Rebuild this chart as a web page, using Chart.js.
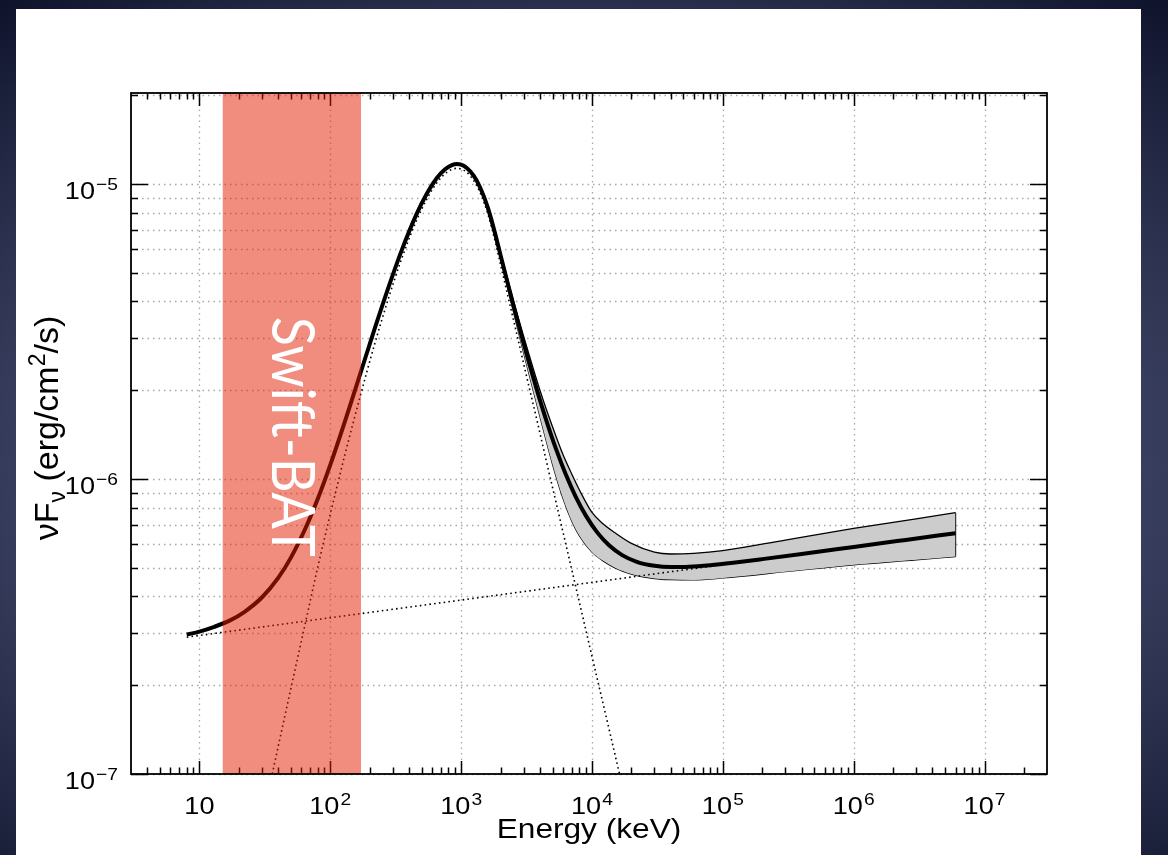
<!DOCTYPE html>
<html>
<head>
<meta charset="utf-8">
<title>Prompt emission spectrum</title>
<script src="https://cdn.jsdelivr.net/npm/chart.js@4"></script>
<style>
  html, body { margin: 0; padding: 0; }
  body {
    width: 1168px; height: 855px; overflow: hidden; position: relative;
    background: radial-gradient(ellipse 80% 75% at 50% 55%, #6a7090 0%, #444a6c 50%, #0a0e26 100%);
  }
  #panel { position: absolute; left: 16px; top: 9px; width: 1125px; height: 846px; background: #fff; }
  #chart { position: absolute; left: 0; top: 0; }
</style>
</head>
<body>
<div id="panel"></div>
<canvas id="chart" width="1168" height="855"></canvas>
<script>
// Swift-BAT energy window (keV)
const batRange = [15, 172];

// total model, nuFnu (erg/cm^2/s) against energy (keV)
const modelE = [8, 10, 13, 17, 22, 30, 40, 50, 65, 80,
                100, 130, 170, 220, 280, 350, 450, 550, 650, 750,
                850, 930, 1000, 1100, 1250, 1400, 1600, 1800, 2000, 2300,
                2700, 3200, 3800, 4500, 5300, 6300, 7500, 9000, 1.1e4, 1.35e4,
                1.7e4, 2.2e4, 3e4, 4e4, 5.5e4, 8e4, 1.2e5, 2e5, 4e5, 1e6,
                2.5e6, 6e6];
const modelF = [2.97e-7, 3.04e-7, 3.155e-7, 3.31e-7, 3.54e-7, 3.965e-7, 4.62e-7, 5.415e-7, 6.85e-7, 8.54e-7,
                1.117e-6, 1.578e-6, 2.285e-6, 3.266e-6, 4.5e-6, 5.936e-6, 7.8e-6, 9.32e-6, 1.046e-5, 1.1205e-5,
                1.1596e-5, 1.1687e-5, 1.1628e-5, 1.136e-5, 1.065e-5, 9.717e-6, 8.318e-6, 6.92e-6, 5.741e-6, 4.5e-6,
                3.43e-6, 2.6e-6, 1.998e-6, 1.569e-6, 1.267e-6, 1.037e-6, 8.72e-7, 7.5e-7, 6.58e-7, 5.96e-7,
                5.52e-7, 5.24e-7, 5.078e-7, 5.03e-7, 5.042e-7, 5.105e-7, 5.204e-7, 5.351e-7, 5.569e-7, 5.885e-7,
                6.217e-7, 6.551e-7];

// Band function component (dotted)
const bandE = [36, 50, 65, 80, 100, 130, 170, 220, 280, 350,
               450, 550, 650, 750, 850, 930, 1000, 1100, 1250, 1400,
               1600, 1800, 2000, 2300, 2700, 3200, 3800, 4500, 5300, 6300,
               7500, 9000, 1.1e4, 1.35e4, 1.7e4];
const bandF = [1.0e-7, 1.95e-7, 3.3e-7, 5.0e-7, 7.6e-7, 1.22e-6, 1.92e-6, 2.9e-6, 4.13e-6, 5.56e-6,
               7.42e-6, 8.94e-6, 1.007e-5, 1.082e-5, 1.121e-5, 1.13e-5, 1.124e-5, 1.097e-5, 1.026e-5, 9.32e-6,
               7.92e-6, 6.52e-6, 5.34e-6, 4.09e-6, 3.02e-6, 2.18e-6, 1.58e-6, 1.14e-6, 8.37e-7, 6.03e-7,
               4.33e-7, 3.06e-7, 2.09e-7, 1.42e-7, 9.15e-8];

// power-law component (dotted)
const plE = [8, 6e6];
const plF = [2.91e-7, 6.55e-7];

// 1-sigma envelope of the model
const errE  = [1500, 2000, 2500, 3000, 4000, 5000, 6000, 7000, 8000, 1e4,
               1.2e4, 1.5e4, 2e4, 3e4, 4e4, 6e4, 1e5, 3e5, 1e6, 3e6, 6e6];
const errHi = [9.05e-6, 5.85e-6, 4.05e-6, 3.05e-6, 2.0e-6, 1.5e-6, 1.21e-6, 1.04e-6, 9.2e-7, 7.7e-7,
               7.08e-7, 6.57e-7, 6.05e-7, 5.65e-7, 5.57e-7, 5.6e-7, 5.72e-7, 6.21e-7, 6.8e-7, 7.33e-7, 7.69e-7];
const errLo = [8.95e-6, 5.6e-6, 3.72e-6, 2.68e-6, 1.63e-6, 1.12e-6, 8.6e-7, 7.2e-7, 6.43e-7, 5.65e-7,
               5.3e-7, 5.0e-7, 4.76e-7, 4.6e-7, 4.56e-7, 4.55e-7, 4.62e-7, 4.85e-7, 5.12e-7, 5.32e-7, 5.46e-7];

// axes
const xRange = [3, 3e7];
const yRange = [1e-7, 2.035e-5];
const xMajor = [10, 1e2, 1e3, 1e4, 1e5, 1e6, 1e7];
const xLabelExp = ['', '2', '3', '4', '5', '6', '7'];
const yMajor = [1e-7, 1e-6, 1e-5];
const yLabelExp = ['\u22127', '\u22126', '\u22125'];

const xMinor = [];
for (const d of [1, 10, 1e2, 1e3, 1e4, 1e5, 1e6, 1e7]) {
  for (let m = 2; m <= 9; m++) {
    const v = d * m;
    if (v > xRange[0] && v < xRange[1]) xMinor.push(v);
  }
}
const yMinor = [];
for (const d of [1e-7, 1e-6, 1e-5]) {
  for (let m = 2; m <= 9; m++) {
    const v = d * m;
    if (v < yRange[1]) yMinor.push(v);
  }
}

const pts = (xs, ys) => xs.map((x, i) => ({x: x, y: ys[i]}));

const axisFont = '"Liberation Sans", Arial, Helvetica, sans-serif';
const stretch = 1.13;

// "10" with a raised exponent; anchor is the centre (x axis) or right edge (y axis)
function drawPower(ctx, x, baseline, exp, align) {
  ctx.font = '24px ' + axisFont;
  const wBase = ctx.measureText('10').width;
  ctx.font = '17px ' + axisFont;
  const wExp = exp ? ctx.measureText(exp).width + 1 : 0;
  const total = (wBase + wExp) * stretch;
  const left = align === 'center' ? x - total / 2 : x - total;
  ctx.save();
  ctx.translate(left, baseline);
  ctx.scale(stretch, 1);
  ctx.textAlign = 'left';
  ctx.textBaseline = 'alphabetic';
  ctx.fillStyle = '#000';
  ctx.font = '24px ' + axisFont;
  ctx.fillText('10', 0, 0);
  if (exp) {
    ctx.font = '17px ' + axisFont;
    ctx.fillText(exp, wBase + 1, -8.5);
  }
  ctx.restore();
}

const framePlugin = {
  id: 'frame',
  beforeDatasetsDraw(chart) {
    const {ctx, chartArea: a, scales: {x, y}} = chart;
    ctx.save();
    // dotted grid
    ctx.strokeStyle = '#a8a8a8';
    ctx.lineWidth = 1.3;
    ctx.setLineDash([1.5, 4]);
    for (const v of xMajor) {
      const px = Math.round(x.getPixelForValue(v)) + 0.5;
      ctx.beginPath(); ctx.moveTo(px, a.top); ctx.lineTo(px, a.bottom); ctx.stroke();
    }
    for (const v of yMajor.concat(yMinor)) {
      const py = Math.round(y.getPixelForValue(v)) + 0.5;
      ctx.beginPath(); ctx.moveTo(a.left, py); ctx.lineTo(a.right, py); ctx.stroke();
    }
    // inward ticks on all four sides
    ctx.setLineDash([]);
    ctx.strokeStyle = '#000';
    ctx.lineWidth = 1.5;
    const xt = (v, len) => {
      const px = Math.round(x.getPixelForValue(v)) + 0.5;
      ctx.beginPath();
      ctx.moveTo(px, a.bottom); ctx.lineTo(px, a.bottom - len);
      ctx.moveTo(px, a.top); ctx.lineTo(px, a.top + len);
      ctx.stroke();
    };
    const yt = (v, len) => {
      const py = Math.round(y.getPixelForValue(v)) + 0.5;
      ctx.beginPath();
      ctx.moveTo(a.left, py); ctx.lineTo(a.left + len, py);
      ctx.moveTo(a.right, py); ctx.lineTo(a.right - len, py);
      ctx.stroke();
    };
    xMajor.forEach(v => xt(v, 13));
    xMinor.forEach(v => xt(v, 6.5));
    yMajor.forEach(v => yt(v, 17));
    yMinor.forEach(v => yt(v, 7));
    ctx.restore();
  },
  afterDatasetsDraw(chart) {
    const {ctx, chartArea: a, scales: {x, y}} = chart;
    ctx.save();
    ctx.strokeStyle = '#000';
    ctx.lineWidth = 1.8;
    ctx.strokeRect(a.left, a.top, a.right - a.left, a.bottom - a.top);

    // tick labels
    xMajor.forEach((v, i) => drawPower(ctx, x.getPixelForValue(v), a.bottom + 39.5, xLabelExp[i], 'center'));
    yMajor.forEach((v, i) => drawPower(ctx, a.left - 13, y.getPixelForValue(v) + 14.5, yLabelExp[i], 'right'));

    // axis titles
    ctx.fillStyle = '#000';
    ctx.font = '28px ' + axisFont;
    ctx.textBaseline = 'alphabetic';
    ctx.save();
    ctx.translate((a.left + a.right) / 2, a.bottom + 64);
    ctx.scale(stretch, 1);
    ctx.textAlign = 'center';
    ctx.fillText('Energy (keV)', 0, 0);
    ctx.restore();

    // nuF_nu (erg/cm^2/s), rotated
    const parts = [
      ['\u03bdF', 34, 0], ['\u03bd', 23, 7], [' (erg/cm', 34, 0], ['2', 23, -13], ['/s)', 34, 0]
    ];
    let len = 0;
    for (const p of parts) { ctx.font = p[1] + 'px ' + axisFont; len += ctx.measureText(p[0]).width; }
    ctx.save();
    ctx.translate(58, 428);
    ctx.rotate(-Math.PI / 2);
    ctx.textAlign = 'left';
    let cx = -len / 2;
    for (const p of parts) {
      ctx.font = p[1] + 'px ' + axisFont;
      ctx.fillText(p[0], cx, p[2]);
      cx += ctx.measureText(p[0]).width;
    }
    ctx.restore();

    // instrument label inside the BAT window
    const bx = (x.getPixelForValue(batRange[0]) + x.getPixelForValue(batRange[1])) / 2;
    const by = y.getPixelForValue(1.39e-6);
    ctx.save();
    ctx.translate(bx, by);
    ctx.rotate(Math.PI / 2);
    ctx.font = '60px Lato, "Open Sans", sans-serif';
    const tw = ctx.measureText('Swift-BAT').width;
    ctx.scale(240 / tw, 1);
    ctx.fillStyle = '#fff';
    ctx.textAlign = 'center';
    ctx.textBaseline = 'middle';
    ctx.fillText('Swift-BAT', 0, 0);
    ctx.restore();
    ctx.restore();
  }
};

const noPoints = {pointRadius: 0, pointHoverRadius: 0};

new Chart(document.getElementById('chart'), {
  type: 'line',
  data: {
    datasets: [
      Object.assign({
        label: 'upper',
        data: pts(errE, errHi),
        borderColor: '#000', borderWidth: 1.3,
        backgroundColor: '#cccccc', fill: '+1',
        cubicInterpolationMode: 'monotone', order: 5
      }, noPoints),
      Object.assign({
        label: 'lower',
        data: pts(errE, errLo),
        borderColor: '#000', borderWidth: 1.3, fill: false,
        cubicInterpolationMode: 'monotone', order: 5
      }, noPoints),
      Object.assign({
        label: 'cap',
        data: pts([errE[errE.length - 1], errE[errE.length - 1]], [errLo[errLo.length - 1], errHi[errHi.length - 1]]),
        borderColor: '#000', borderWidth: 1.3, fill: false, order: 5
      }, noPoints),
      Object.assign({
        label: 'Band',
        data: pts(bandE, bandF),
        borderColor: '#000', borderWidth: 1.6, borderDash: [1.6, 3.2], fill: false,
        cubicInterpolationMode: 'monotone', order: 4
      }, noPoints),
      Object.assign({
        label: 'power law',
        data: pts(plE, plF),
        borderColor: '#000', borderWidth: 1.6, borderDash: [1.6, 3.2], fill: false, order: 4
      }, noPoints),
      Object.assign({
        label: 'model',
        data: pts(modelE, modelF),
        borderColor: '#000', borderWidth: 4, fill: false,
        cubicInterpolationMode: 'monotone', order: 3
      }, noPoints),
      Object.assign({
        label: 'Swift-BAT',
        data: pts(batRange, [yRange[1], yRange[1]]),
        borderWidth: 0, borderColor: 'rgba(0,0,0,0)',
        backgroundColor: 'rgba(225, 28, 0, 0.5)', fill: 'start', order: 0
      }, noPoints)
    ]
  },
  options: {
    responsive: false,
    animation: false,
    devicePixelRatio: 1,
    layout: {padding: {left: 131, right: 121, top: 93, bottom: 81}},
    plugins: {legend: {display: false}, tooltip: {enabled: false}},
    scales: {
      x: {type: 'logarithmic', min: xRange[0], max: xRange[1], display: false},
      y: {type: 'logarithmic', min: yRange[0], max: yRange[1], display: false}
    }
  },
  plugins: [framePlugin]
});
</script>
</body>
</html>
